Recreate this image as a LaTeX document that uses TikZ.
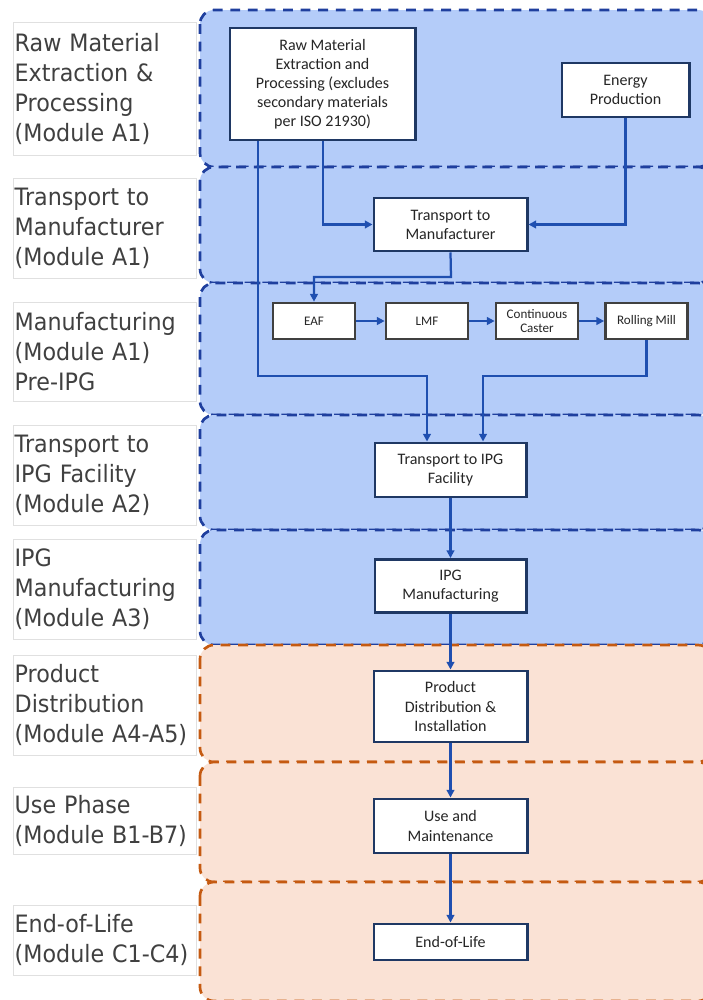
\documentclass[tikz,border=0pt]{standalone}
\usepackage{fontspec}
\usepackage{tikz}
\usetikzlibrary{arrows.meta}
\newfontfamily\lblfont[FakeStretch=0.93]{DejaVu Sans}
\newfontfamily\boxfont{Carlito}

\definecolor{bandblue}{HTML}{B4CCF9}
\definecolor{edgeblue}{HTML}{1F3F9E}
\definecolor{bandorange}{HTML}{FAE2D5}
\definecolor{edgeorange}{HTML}{C55A11}
\definecolor{boxnavy}{HTML}{1F3864}
\definecolor{flowblue}{HTML}{1F4FB0}
\definecolor{labelgray}{HTML}{404040}

\tikzset{
  blueband/.style={draw=edgeblue, fill=bandblue, line width=1.9pt,
    dash pattern=on 7pt off 5.5pt, rounded corners=0.35cm},
  orangeband/.style={draw=edgeorange, fill=bandorange, line width=1.9pt,
    dash pattern=on 7pt off 5.5pt, rounded corners=0.35cm},
  phase/.style={draw=black!12, fill=white, anchor=north west, text width=4.5cm,
    inner xsep=1pt, align=left, text=labelgray,
    font=\lblfont\fontsize{17}{21.3}\selectfont},
  procbox/.style={draw=boxnavy, fill=white, line width=2.1pt, align=center,
    text=black!85, inner sep=2pt, font=\boxfont\fontsize{11.4}{13.6}\selectfont},
  unitbox/.style={draw=black!75, fill=white, line width=1.9pt, align=center,
    text=black!85, inner sep=1pt, minimum width=2.05cm, minimum height=0.9cm,
    font=\boxfont\fontsize{9.3}{10.5}\selectfont},
  flow/.style={draw=flowblue, line width=1.6pt, -{Triangle[length=5.5pt,width=5.5pt]}}
}

\begin{document}
\begin{tikzpicture}[x=0.025cm, y=-0.025cm]
\useasboundingbox (0,0) rectangle (703,1000);

% module bands
\draw[blueband] (200,10) rectangle (712,167);
\draw[blueband] (200,167) rectangle (712,283);
\draw[blueband] (200,283) rectangle (712,415);
\draw[blueband] (200,415) rectangle (712,530);
\draw[blueband] (200,530) rectangle (712,645);
\draw[orangeband] (200,645) rectangle (712,762);
\draw[orangeband] (200,762) rectangle (712,882);
\draw[orangeband] (200,882) rectangle (712,1001);

% module labels
\node[phase, minimum height=3.325cm] (lblraw) at (13,22) {Raw Material\\Extraction \&\\Processing\\(Module A1)};
\node[phase, minimum height=2.5cm] (lbltman) at (13,178) {Transport to\\Manufacturer\\(Module A1)};
\node[phase, minimum height=2.475cm] (lblmfg) at (13,302) {Manufacturing\\(Module A1)\\Pre-IPG};
\node[phase, minimum height=2.5cm] (lbltipg) at (13,425) {Transport to\\IPG Facility\\(Module A2)};
\node[phase, minimum height=2.5cm] (lblipg) at (13,539) {IPG\\Manufacturing\\(Module A3)};
\node[phase, minimum height=2.5cm] (lbldist) at (13,655) {Product\\Distribution\\(Module A4-A5)};
\node[phase, minimum height=1.675cm] (lbluse) at (13,787) {Use Phase\\(Module B1-B7)};
\node[phase, minimum height=1.75cm] (lbleol) at (13,905) {End-of-Life\\(Module C1-C4)};

% process boxes
\node[procbox, minimum width=4.625cm, minimum height=2.8cm] (raw) at (322.5,84)
  {Raw Material\\Extraction and\\Processing (excludes\\secondary materials\\per ISO 21930)};
\node[procbox, minimum width=3.175cm, minimum height=1.35cm] (energy) at (625.5,90) {Energy\\Production};
\node[procbox, minimum width=3.825cm, minimum height=1.325cm] (tman) at (450.5,224.5) {Transport to\\Manufacturer};

\node[unitbox] (eaf) at (314,321) {EAF};
\node[unitbox] (lmf) at (427,321) {LMF};
\node[unitbox] (caster) at (537,321) {Continuous\\Caster};
\node[unitbox] (mill) at (646.5,321) {Rolling Mill};

\node[procbox, minimum width=3.775cm, minimum height=1.35cm] (tipg) at (450.5,470) {Transport to IPG\\Facility};
\node[procbox, minimum width=3.775cm, minimum height=1.325cm] (ipgm) at (450.5,586) {IPG\\Manufacturing};
\node[procbox, minimum width=3.825cm, minimum height=1.775cm] (dist) at (450.5,706.5) {Product\\Distribution \&\\Installation};
\node[procbox, minimum width=3.825cm, minimum height=1.35cm] (use) at (450.5,826) {Use and\\Maintenance};
\node[procbox, minimum width=3.825cm, minimum height=0.9cm] (eol) at (450.5,942) {End-of-Life};

% bend points
\coordinate (rawdrop) at (258,376);
\coordinate (rawin) at (427,376);
\coordinate (rawside) at (323,224);
\coordinate (tmanbend) at (451,277);
\coordinate (millin) at (483,376);

% flows
\draw[flow] (raw.south -| rawdrop) -- (rawdrop) -- (rawin) -- (tipg.north -| rawin);
\draw[flow] (raw.south -| rawside) |- (tman.west);
\draw[flow] (energy.south) |- (tman.east);
\draw[flow] (tman.south) -- (tmanbend) -| (eaf.north);
\draw[flow] (eaf) -- (lmf);
\draw[flow] (lmf) -- (caster);
\draw[flow] (caster) -- (mill);
\draw[flow] (mill.south) |- (millin) -- (tipg.north -| millin);
\draw[flow] (tipg) -- (ipgm);
\draw[flow] (ipgm) -- (dist);
\draw[flow] (dist) -- (use);
\draw[flow] (use) -- (eol);

\end{tikzpicture}
\end{document}
